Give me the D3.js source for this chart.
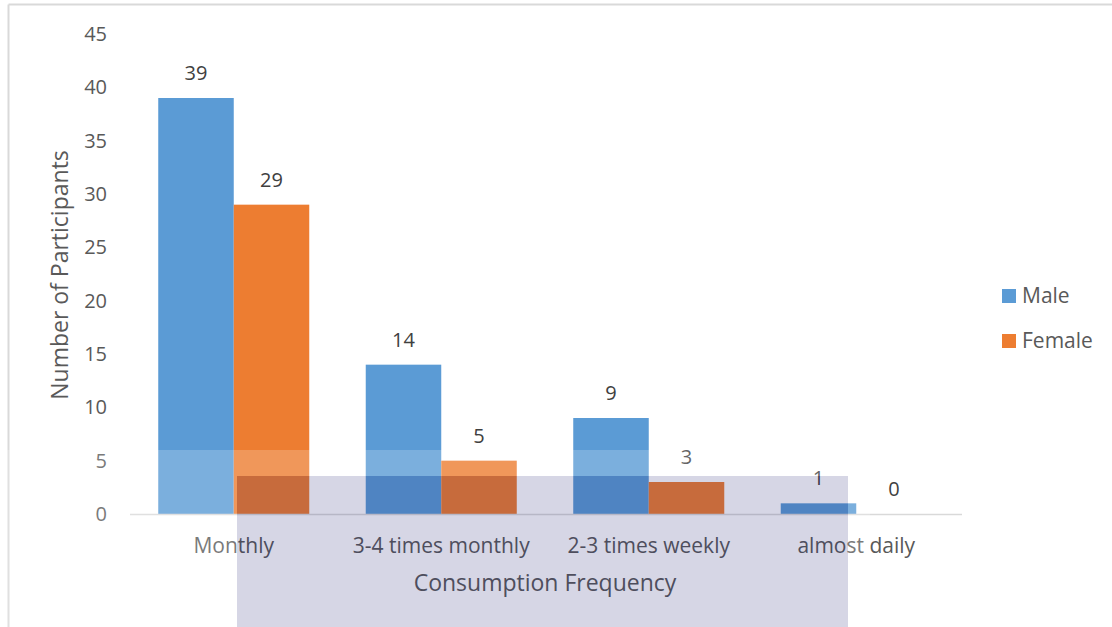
<html>
<head>
<script src="https://d3js.org/d3.v7.min.js"></script>
<style>
  body { margin: 0; background: #fff; }
  text { font-family: "Open Sans", sans-serif; }
</style>
</head>
<body>
<svg id="chart" width="1112" height="627"></svg>
<script>
const categories = ["Monthly", "3-4 times monthly", "2-3 times weekly", "almost daily"];
const series = ["Male", "Female"];
const male = [39, 14, 9, 1];
const female = [29, 5, 3, 0];
const yTicks = [0, 5, 10, 15, 20, 25, 30, 35, 40, 45];
const colors = ["#5b9bd5", "#ed7d31"];

const svg = d3.select("#chart");

// chart frame (only top and left edges show)
svg.append("line").attr("x1", 8.5).attr("x2", 1112).attr("y1", 4.5).attr("y2", 4.5)
  .style("stroke", "#d9d9d9").style("stroke-width", 2);
svg.append("line").attr("x1", 8.5).attr("x2", 8.5).attr("y1", 4.5).attr("y2", 627)
  .style("stroke", "#d9d9d9").style("stroke-width", 2);

const x0 = d3.scaleBand().domain(categories).range([130, 960]);
const x1 = d3.scaleBand().domain(series).range([0, x0.bandwidth()]).paddingOuter(0.374);
const y = d3.scaleLinear().domain([0, 45]).range([514, 34]);
const color = d3.scaleOrdinal().domain(series).range(colors);

const rows = categories.map((c, i) => ({ cat: c, values: [
  { key: "Male", value: male[i] }, { key: "Female", value: female[i] }] }));

// y tick labels
svg.append("g").selectAll("text").data(yTicks).join("text")
  .attr("x", 107).attr("y", d => y(d)).attr("dy", "0.35em")
  .attr("text-anchor", "end").style("font-size", "20px").style("fill", "#595959")
  .text(d => d);

// bars
const groups = svg.append("g").selectAll("g").data(rows).join("g")
  .attr("transform", d => `translate(${x0(d.cat)},0)`);

groups.selectAll("rect").data(d => d.values).join("rect")
  .attr("x", d => x1(d.key)).attr("width", x1.bandwidth())
  .attr("y", d => y(d.value)).attr("height", d => y(0) - y(d.value))
  .style("fill", d => color(d.key));

groups.selectAll("text").data(d => d.values).join("text")
  .attr("x", d => x1(d.key) + x1.bandwidth() / 2)
  .attr("y", d => y(d.value) - 18)
  .attr("text-anchor", "middle").style("font-size", "20px").style("fill", "#404040")
  .text(d => d.value);

// x axis line
svg.append("line").attr("x1", 130).attr("x2", 962).attr("y1", y(0) + 0.5).attr("y2", y(0) + 0.5)
  .style("stroke", "#d9d9d9").style("stroke-width", 1.5);

// category labels
svg.append("g").selectAll("text").data(categories).join("text")
  .attr("x", d => x0(d) + x0.bandwidth() / 2).attr("y", 546).attr("dy", "0.35em")
  .attr("text-anchor", "middle").style("font-size", "21px").style("fill", "#595959")
  .text(d => d);

// axis titles
svg.append("text").attr("x", 545).attr("y", 583).attr("dy", "0.35em")
  .attr("text-anchor", "middle").style("font-size", "23px").style("fill", "#595959")
  .text("Consumption Frequency");
svg.append("text").attr("transform", "translate(60,275) rotate(-90)").attr("dy", "0.35em")
  .attr("text-anchor", "middle").style("font-size", "23px").style("fill", "#595959")
  .text("Number of Participants");

// legend
const legend = svg.append("g").selectAll("g").data(series).join("g")
  .attr("transform", (d, i) => `translate(1002,${296 + i * 45})`);
legend.append("rect").attr("x", 0).attr("y", -7).attr("width", 14).attr("height", 14)
  .style("fill", d => color(d));
legend.append("text").attr("x", 20).attr("dy", "0.35em")
  .style("font-size", "21px").style("fill", "#595959").text(d => d);

// watermark overlay from the scanned page
const wm = svg.append("g");
[[0, 450, 870, 26], [0, 476, 237, 151], [848, 476, 22, 151]].forEach(r =>
  wm.append("rect").attr("x", r[0]).attr("y", r[1]).attr("width", r[2]).attr("height", r[3])
    .style("fill", "#fff").style("opacity", 0.2));
wm.append("rect").attr("x", 237).attr("y", 476).attr("width", 611).attr("height", 151)
  .style("fill", "#1b1b6e").style("opacity", 0.18);
</script>
</body>
</html>
